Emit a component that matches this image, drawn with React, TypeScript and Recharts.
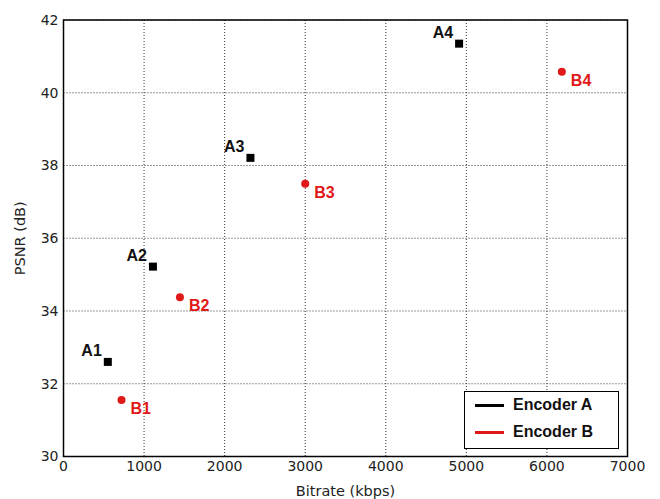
import React from "react";
import { ScatterChart, Scatter, XAxis, YAxis, CartesianGrid, ReferenceArea, Legend } from "recharts";

const encoderANames = ["A1", "A2", "A3", "A4"];
const encoderABitrate = [550, 1110, 2320, 4910];
const encoderAPsnr = [32.6, 35.22, 38.21, 41.35];

const encoderBNames = ["B1", "B2", "B3", "B4"];
const encoderBBitrate = [720, 1445, 3000, 6185];
const encoderBPsnr = [31.55, 34.38, 37.5, 40.58];

const xTicks = [0, 1000, 2000, 3000, 4000, 5000, 6000, 7000];
const yTicks = [30, 32, 34, 36, 38, 40, 42];

const dataA = encoderANames.map((name, i) => ({ name, x: encoderABitrate[i], y: encoderAPsnr[i] }));
const dataB = encoderBNames.map((name, i) => ({ name, x: encoderBBitrate[i], y: encoderBPsnr[i] }));

const RED = "#e01818";
const axisFont = "'DejaVu Sans', sans-serif";
const labelFont = "'Liberation Sans', Arial, sans-serif";

// black square, label up-left
const SquareMark = (props: any) => {
  const { cx, cy, payload } = props;
  return (
    <g>
      <rect x={cx - 4} y={cy - 4} width={8} height={8} fill="#000" />
      <text x={cx - 6} y={cy - 6} textAnchor="end" fontSize={16} fontWeight="bold" fontFamily={labelFont} fill="#111">
        {payload.name}
      </text>
    </g>
  );
};

// red dot, label down-right
const DotMark = (props: any) => {
  const { cx, cy, payload } = props;
  return (
    <g>
      <circle cx={cx} cy={cy} r={4} fill={RED} />
      <text x={cx + 9} y={cy + 14} textAnchor="start" fontSize={16} fontWeight="bold" fontFamily={labelFont} fill={RED}>
        {payload.name}
      </text>
    </g>
  );
};

const LegendBox = () => (
  <div
    style={{
      width: 155,
      height: 58,
      boxSizing: "border-box",
      border: "1.5px solid #000",
      background: "#fff",
      fontFamily: labelFont,
      fontWeight: "bold",
      fontSize: 16,
      color: "#111",
      position: "relative",
    }}
  >
    {[
      { label: "Encoder A", color: "#000", top: 13 },
      { label: "Encoder B", color: RED, top: 40 },
    ].map((r) => (
      <div key={r.label} style={{ position: "absolute", left: 10, top: r.top - 10, height: 20, display: "flex", alignItems: "center" }}>
        <span style={{ display: "inline-block", width: 29, height: 3, background: r.color, marginRight: 9 }} />
        <span>{r.label}</span>
      </div>
    ))}
  </div>
);

export default function App() {
  return (
    <div style={{ position: "absolute", left: 0, top: 0, background: "#fff" }}>
      <ScatterChart width={660} height={499} margin={{ top: 20, right: 32.5, bottom: 0, left: 0 }}>
        <CartesianGrid stroke="#333" strokeDasharray="1 2" horizontalValues={yTicks} verticalValues={xTicks} />
        <XAxis
          type="number"
          dataKey="x"
          domain={[0, 7000]}
          ticks={xTicks}
          height={42.5}
          axisLine={false}
          tickLine={false}
          tickSize={3}
          tickMargin={2}
          tick={{ fontSize: 14, fill: "#222", fontFamily: axisFont }}
          label={{ value: "Bitrate (kbps)", position: "insideBottom", offset: 3, fontSize: 14.5, fill: "#222", fontFamily: axisFont }}
        />
        <YAxis
          type="number"
          dataKey="y"
          domain={[30, 42]}
          ticks={yTicks}
          width={63.5}
          axisLine={false}
          tickLine={false}
          tickSize={3}
          tickMargin={2}
          tick={{ fontSize: 14, fill: "#222", fontFamily: axisFont }}
          label={{
            value: "PSNR (dB)",
            angle: -90,
            position: "insideLeft",
            offset: 20,
            fontSize: 14.5,
            fill: "#222",
            fontFamily: axisFont,
            style: { textAnchor: "middle" },
          }}
        />
        <ReferenceArea x1={0} x2={7000} y1={30} y2={42} fill="none" stroke="#000" strokeWidth={1.5} />
        <Scatter name="Encoder A" data={dataA} fill="#000" shape={SquareMark} isAnimationActive={false} />
        <Scatter name="Encoder B" data={dataB} fill={RED} shape={DotMark} isAnimationActive={false} />
        <Legend
          layout="vertical"
          verticalAlign="middle"
          align="center"
          content={LegendBox}
          wrapperStyle={{ left: 464, top: 391, width: 155, height: 58 }}
        />
      </ScatterChart>
    </div>
  );
}
